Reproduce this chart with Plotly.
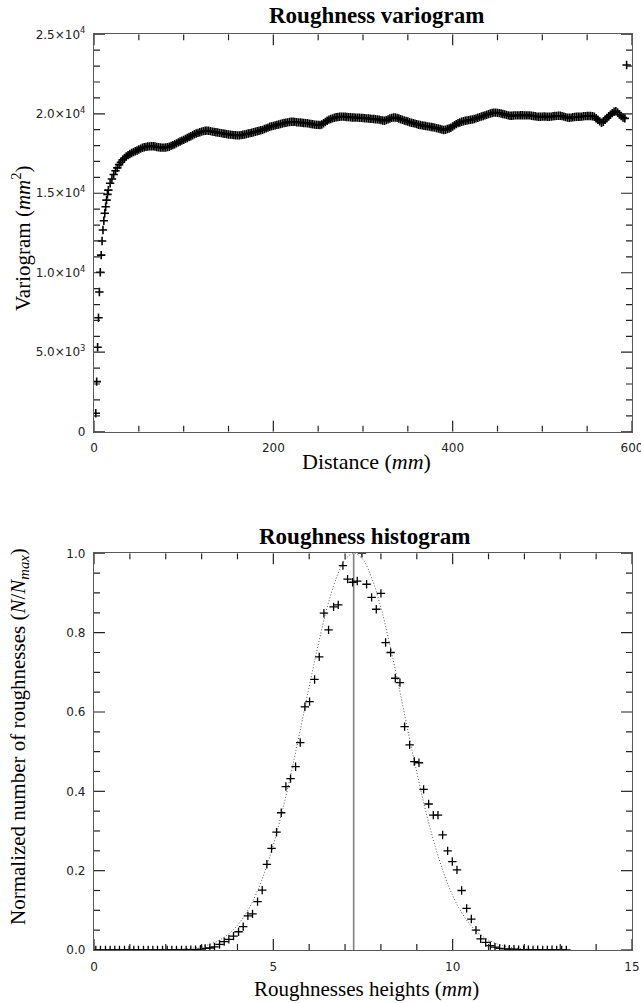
import plotly.graph_objects as go

# ---------------- Roughness variogram data ----------------
var_dist = [2, 3, 4, 5, 6, 7, 8, 9, 10, 11, 12, 13, 14, 15, 16,
            18, 20, 22, 24, 26, 28, 30, 32, 34, 36, 38, 40, 42, 44, 46, 48, 50, 52, 54, 56,
            58, 60, 62, 64, 66, 68, 70, 72, 74, 76, 78, 80, 82, 84, 86, 88, 90, 92, 94, 96,
            98, 100, 102, 104, 106, 108, 110, 112, 114, 116, 118, 120, 122, 124, 126, 128, 130, 132, 134, 136,
            138, 140, 142, 144, 146, 148, 150, 152, 154, 156, 158, 160, 162, 164, 166, 168, 170, 172, 174, 176,
            178, 180, 182, 184, 186, 188, 190, 192, 194, 196, 198, 200, 202, 204, 206, 208, 210, 212, 214, 216,
            218, 220, 222, 224, 226, 228, 230, 232, 234, 236, 238, 240, 242, 244, 246, 248, 250, 252, 254, 256,
            258, 260, 262, 264, 266, 268, 270, 272, 274, 276, 278, 280, 282, 284, 286, 288, 290, 292, 294, 296,
            298, 300, 302, 304, 306, 308, 310, 312, 314, 316, 318, 320, 322, 324, 326, 328, 330, 332, 334, 336,
            338, 340, 342, 344, 346, 348, 350, 352, 354, 356, 358, 360, 362, 364, 366, 368, 370, 372, 374, 376,
            378, 380, 382, 384, 386, 388, 390, 392, 394, 396, 398, 400, 402, 404, 406, 408, 410, 412, 414, 416,
            418, 420, 422, 424, 426, 428, 430, 432, 434, 436, 438, 440, 442, 444, 446, 448, 450, 452, 454, 456,
            458, 460, 462, 464, 466, 468, 470, 472, 474, 476, 478, 480, 482, 484, 486, 488, 490, 492, 494, 496,
            498, 500, 502, 504, 506, 508, 510, 512, 514, 516, 518, 520, 522, 524, 526, 528, 530, 532, 534, 536,
            538, 540, 542, 544, 546, 548, 550, 552, 554, 556, 558, 560, 562, 564, 566, 568, 570, 572, 574, 576,
            578, 580, 582, 584, 586, 588, 590, 592, 594]

var_value = [1160, 3150, 5310, 7170, 8790, 10030, 11110, 12000, 12690, 13270, 13740, 14150, 14570, 14930, 15200,
             15630, 15900, 16180, 16420, 16600, 16800, 16950, 17100, 17220, 17320, 17400, 17470, 17530, 17590, 17640, 17690, 17750, 17810, 17860, 17890,
             17920, 17940, 17950, 17960, 17960, 17940, 17910, 17890, 17880, 17870, 17870, 17880, 17900, 17930, 17980, 18030, 18080, 18140, 18200, 18260,
             18310, 18360, 18420, 18480, 18540, 18590, 18650, 18710, 18760, 18800, 18840, 18880, 18910, 18930, 18940, 18930, 18910, 18880, 18860, 18840,
             18820, 18800, 18780, 18760, 18740, 18720, 18700, 18690, 18670, 18660, 18650, 18640, 18640, 18660, 18680, 18700, 18730, 18760, 18780, 18810,
             18840, 18870, 18900, 18930, 18960, 18990, 19040, 19080, 19130, 19180, 19210, 19240, 19270, 19300, 19330, 19360, 19390, 19420, 19440, 19460,
             19480, 19500, 19500, 19490, 19470, 19460, 19450, 19440, 19420, 19410, 19400, 19380, 19360, 19340, 19320, 19310, 19300, 19290, 19330, 19400,
             19480, 19560, 19630, 19670, 19710, 19750, 19780, 19800, 19810, 19820, 19820, 19810, 19800, 19790, 19780, 19770, 19770, 19760, 19760, 19750,
             19740, 19730, 19720, 19710, 19700, 19690, 19680, 19670, 19660, 19650, 19630, 19600, 19580, 19560, 19600, 19650, 19700, 19740, 19770, 19770,
             19740, 19700, 19660, 19620, 19580, 19550, 19510, 19470, 19440, 19410, 19380, 19350, 19310, 19290, 19270, 19250, 19230, 19210, 19190, 19170,
             19150, 19130, 19100, 19070, 19040, 19010, 18980, 19000, 19040, 19070, 19120, 19200, 19280, 19350, 19410, 19450, 19500, 19530, 19560, 19580,
             19600, 19620, 19640, 19670, 19710, 19750, 19790, 19830, 19860, 19900, 19940, 19980, 20020, 20050, 20070, 20070, 20060, 20040, 20020, 19990,
             19960, 19930, 19900, 19880, 19880, 19890, 19900, 19900, 19900, 19910, 19910, 19900, 19900, 19900, 19900, 19880, 19860, 19840, 19820, 19810,
             19810, 19820, 19830, 19820, 19810, 19810, 19820, 19840, 19860, 19870, 19880, 19880, 19850, 19820, 19790, 19760, 19750, 19760, 19780, 19800,
             19810, 19810, 19810, 19820, 19840, 19850, 19860, 19860, 19860, 19840, 19810, 19720, 19620, 19520, 19440, 19500, 19620, 19740, 19840, 19940,
             20040, 20130, 20170, 20080, 19950, 19850, 19760, 19710, 23070]

var_tick_vals = [0, 5000, 10000, 15000, 20000, 25000]
var_tick_text = ["0", "5.0\u00d710<sup>3</sup>", "1.0\u00d710<sup>4</sup>", "1.5\u00d710<sup>4</sup>",
                 "2.0\u00d710<sup>4</sup>", "2.5\u00d710<sup>4</sup>"]
var_minor_step = 1000
dist_tick_vals = [0, 200, 400, 600]
dist_minor_step = 50

# ---------------- Roughness histogram data ----------------
hist_x = [0.05, 0.18, 0.32, 0.45, 0.58, 0.71, 0.85, 0.98, 1.11, 1.24,
          1.38, 1.51, 1.64, 1.77, 1.91, 2.04, 2.17, 2.30, 2.44, 2.57,
          2.70, 2.83, 2.97, 3.10, 3.23, 3.36, 3.50, 3.63, 3.76, 3.89,
          4.03, 4.16, 4.29, 4.42, 4.56, 4.69, 4.82, 4.95, 5.09, 5.22,
          5.35, 5.48, 5.62, 5.75, 5.88, 6.01, 6.15, 6.28, 6.41, 6.54,
          6.68, 6.81, 6.94, 7.07, 7.21, 7.34, 7.47, 7.60, 7.74, 7.87,
          8.00, 8.13, 8.27, 8.40, 8.53, 8.66, 8.80, 8.93, 9.06, 9.19,
          9.33, 9.46, 9.59, 9.72, 9.86, 9.99, 10.12, 10.25, 10.39, 10.52,
          10.65, 10.78, 10.92, 11.05, 11.18, 11.31, 11.45, 11.58, 11.71, 11.84,
          11.98, 12.11, 12.24, 12.37, 12.51, 12.64, 12.77, 12.90, 13.04, 13.17]

hist_y = [0, 0, 0, 0, 0, 0, 0, 0, 0, 0,
          0, 0, 0, 0, 0, 0, 0, 0, 0, 0,
          0.001, 0.001, 0.002, 0.004, 0.005, 0.008, 0.014, 0.021, 0.027, 0.035,
          0.046, 0.059, 0.086, 0.091, 0.122, 0.151, 0.216, 0.256, 0.297, 0.346,
          0.412, 0.432, 0.462, 0.523, 0.613, 0.626, 0.682, 0.739, 0.849, 0.807,
          0.865, 0.870, 0.969, 0.935, 0.927, 0.930, 1.000, 0.922, 0.889, 0.859,
          0.899, 0.775, 0.750, 0.685, 0.674, 0.563, 0.517, 0.475, 0.472, 0.405,
          0.368, 0.340, 0.340, 0.290, 0.250, 0.223, 0.202, 0.150, 0.105, 0.078,
          0.050, 0.028, 0.019, 0.011, 0.007, 0.004, 0.003, 0.002, 0.002, 0.001,
          0.001, 0.001, 0.0, 0.001, 0.0, 0.0, 0.001, 0.0, 0.0, 0.0]

fit_x = [2.25, 2.50, 2.75, 3.00, 3.25, 3.50, 3.75, 4.00, 4.25, 4.50,
         4.75, 5.00, 5.25, 5.50, 5.75, 6.00, 6.25, 6.50, 6.75, 7.00,
         7.25, 7.50, 7.75, 8.00, 8.25, 8.50, 8.75, 9.00, 9.25, 9.50,
         9.75, 10.00, 10.25, 10.50, 10.75, 11.00, 11.25, 11.50, 11.75, 12.00, 12.25]
fit_y = [0.0014, 0.0027, 0.0049, 0.0087, 0.015, 0.025, 0.040, 0.0625, 0.094, 0.137,
         0.194, 0.265, 0.350, 0.448, 0.554, 0.664, 0.769, 0.863, 0.936, 0.984,
         1.0, 0.984, 0.936, 0.863, 0.769, 0.664, 0.554, 0.448, 0.350, 0.265,
         0.194, 0.137, 0.094, 0.0625, 0.040, 0.025, 0.015, 0.0087, 0.0049, 0.0027, 0.0014]

mean_height = 7.24
height_tick_vals = [0, 5, 10, 15]
height_minor_step = 1
norm_tick_vals = [0.0, 0.2, 0.4, 0.6, 0.8, 1.0]
norm_tick_text = ["0.0", "0.2", "0.4", "0.6", "0.8", "1.0"]
norm_minor_step = 0.05

# ---------------- figure ----------------
W, H = 641, 1003
SERIF = "Liberation Serif"
SANS = "DejaVu Sans"
PLOT_W = 632 - 94
PLOT_H = 397.4
MAJ_LEN, MIN_LEN = 11, 6
TICK_COLOR = "#222222"
VAR_XR, VAR_YR = [0, 600], [0, 25000]
HIST_XR, HIST_YR = [0, 15], [0, 1]

fig = go.Figure()

fig.add_trace(go.Scatter(
    x=var_dist, y=var_value, mode="markers", xaxis="x", yaxis="y",
    marker=dict(symbol="cross-thin", size=6, color="black",
                line=dict(color="black", width=1.6))))

fig.add_trace(go.Scatter(
    x=fit_x, y=fit_y, mode="lines", xaxis="x2", yaxis="y2",
    line=dict(color="#555555", width=1, dash="1px,2px", shape="spline")))

fig.add_trace(go.Scatter(
    x=[mean_height, mean_height], y=[0, 1], mode="lines", xaxis="x2", yaxis="y2",
    line=dict(color="#808080", width=1.6)))

fig.add_trace(go.Scatter(
    x=hist_x, y=hist_y, mode="markers", xaxis="x2", yaxis="y2",
    marker=dict(symbol="cross-thin", size=6, color="black",
                line=dict(color="black", width=1.3))))


def minor_positions(lo, hi, step, majors):
    out = []
    n = int(round((hi - lo) / step))
    for k in range(n + 1):
        v = round(lo + k * step, 6)
        if all(abs(v - m) > 1e-9 for m in majors):
            out.append(v)
    return out


def tick_segment(xa, ya, xs, ys):
    # one short two-point line per tick mark (same kind of trace as the mean line)
    fig.add_trace(go.Scatter(x=xs, y=ys, mode="lines", xaxis=xa, yaxis=ya,
                             line=dict(color=TICK_COLOR, width=1.2)))


def tick_marks(xa, ya, xr, yr, xmaj, xmin, ymaj, ymin):
    ypx = (yr[1] - yr[0]) / PLOT_H
    xpx = (xr[1] - xr[0]) / PLOT_W
    for vals, ln in ((xmaj, MAJ_LEN), (xmin, MIN_LEN)):
        for v in vals:
            tick_segment(xa, ya, [v, v], [yr[0], yr[0] + ln * ypx])
            tick_segment(xa, ya, [v, v], [yr[1], yr[1] - ln * ypx])
    for vals, ln in ((ymaj, MAJ_LEN), (ymin, MIN_LEN)):
        for v in vals:
            tick_segment(xa, ya, [xr[0], xr[0] + ln * xpx], [v, v])
            tick_segment(xa, ya, [xr[1], xr[1] - ln * xpx], [v, v])


tick_marks("x", "y", VAR_XR, VAR_YR,
           dist_tick_vals, minor_positions(0, 600, dist_minor_step, dist_tick_vals),
           var_tick_vals, minor_positions(0, 25000, var_minor_step, var_tick_vals))
tick_marks("x2", "y2", HIST_XR, HIST_YR,
           height_tick_vals, minor_positions(0, 15, height_minor_step, height_tick_vals),
           norm_tick_vals, minor_positions(0, 1, norm_minor_step, norm_tick_vals))


def axis_style(**kw):
    d = dict(showline=True, linecolor="#5a5a5a", linewidth=1.3, mirror=True,
             ticks="", showgrid=False, zeroline=False, automargin=False,
             ticklabeloverflow="allow",
             tickfont=dict(family=SANS, size=12, color="#222222"))
    d.update(kw)
    return d


xdom = [94 / W, 632 / W]
fig.update_layout(
    width=W, height=H, template="none",
    margin=dict(l=0, r=0, t=0, b=0),
    paper_bgcolor="white", plot_bgcolor="white", showlegend=False,
    xaxis=axis_style(domain=xdom, anchor="y", range=VAR_XR,
                     tickmode="array", tickvals=dist_tick_vals, ticklabelstandoff=5),
    yaxis=axis_style(domain=[1 - 431.7 / H, 1 - 34.3 / H], anchor="x", range=VAR_YR,
                     tickmode="array", tickvals=var_tick_vals, ticktext=var_tick_text,
                     ticklabelstandoff=5),
    xaxis2=axis_style(domain=xdom, anchor="y2", range=HIST_XR,
                      tickmode="array", tickvals=height_tick_vals, ticklabelstandoff=5),
    yaxis2=axis_style(domain=[1 - 950 / H, 1 - 553.3 / H], anchor="x2", range=HIST_YR,
                      tickmode="array", tickvals=norm_tick_vals, ticktext=norm_tick_text,
                      ticklabelstandoff=5),
)


def ann(text, x, y, size, angle=0, bold=False):
    t = "<b>" + text + "</b>" if bold else text
    fig.add_annotation(text=t, x=x / W, y=1 - y / H, xref="paper", yref="paper",
                       xanchor="center", yanchor="middle", showarrow=False,
                       textangle=angle, font=dict(family=SERIF, size=size, color="black"))


ann("Roughness variogram", 376, 16, 23, bold=True)
ann("Distance (<i>mm</i>)", 366, 461, 22)
ann("Variogram (<i>mm</i><sup>2</sup>)", 21, 238, 21, angle=-90)
ann("Roughness histogram", 365, 536, 23, bold=True)
ann("Roughnesses heights (<i>mm</i>)", 366, 989, 21)
ann("Normalized number of roughnesses (<i>N</i>/<i>N</i><sub><i>max</i></sub>)", 19, 737, 21, angle=-90)

fig.write_html("out.html")
